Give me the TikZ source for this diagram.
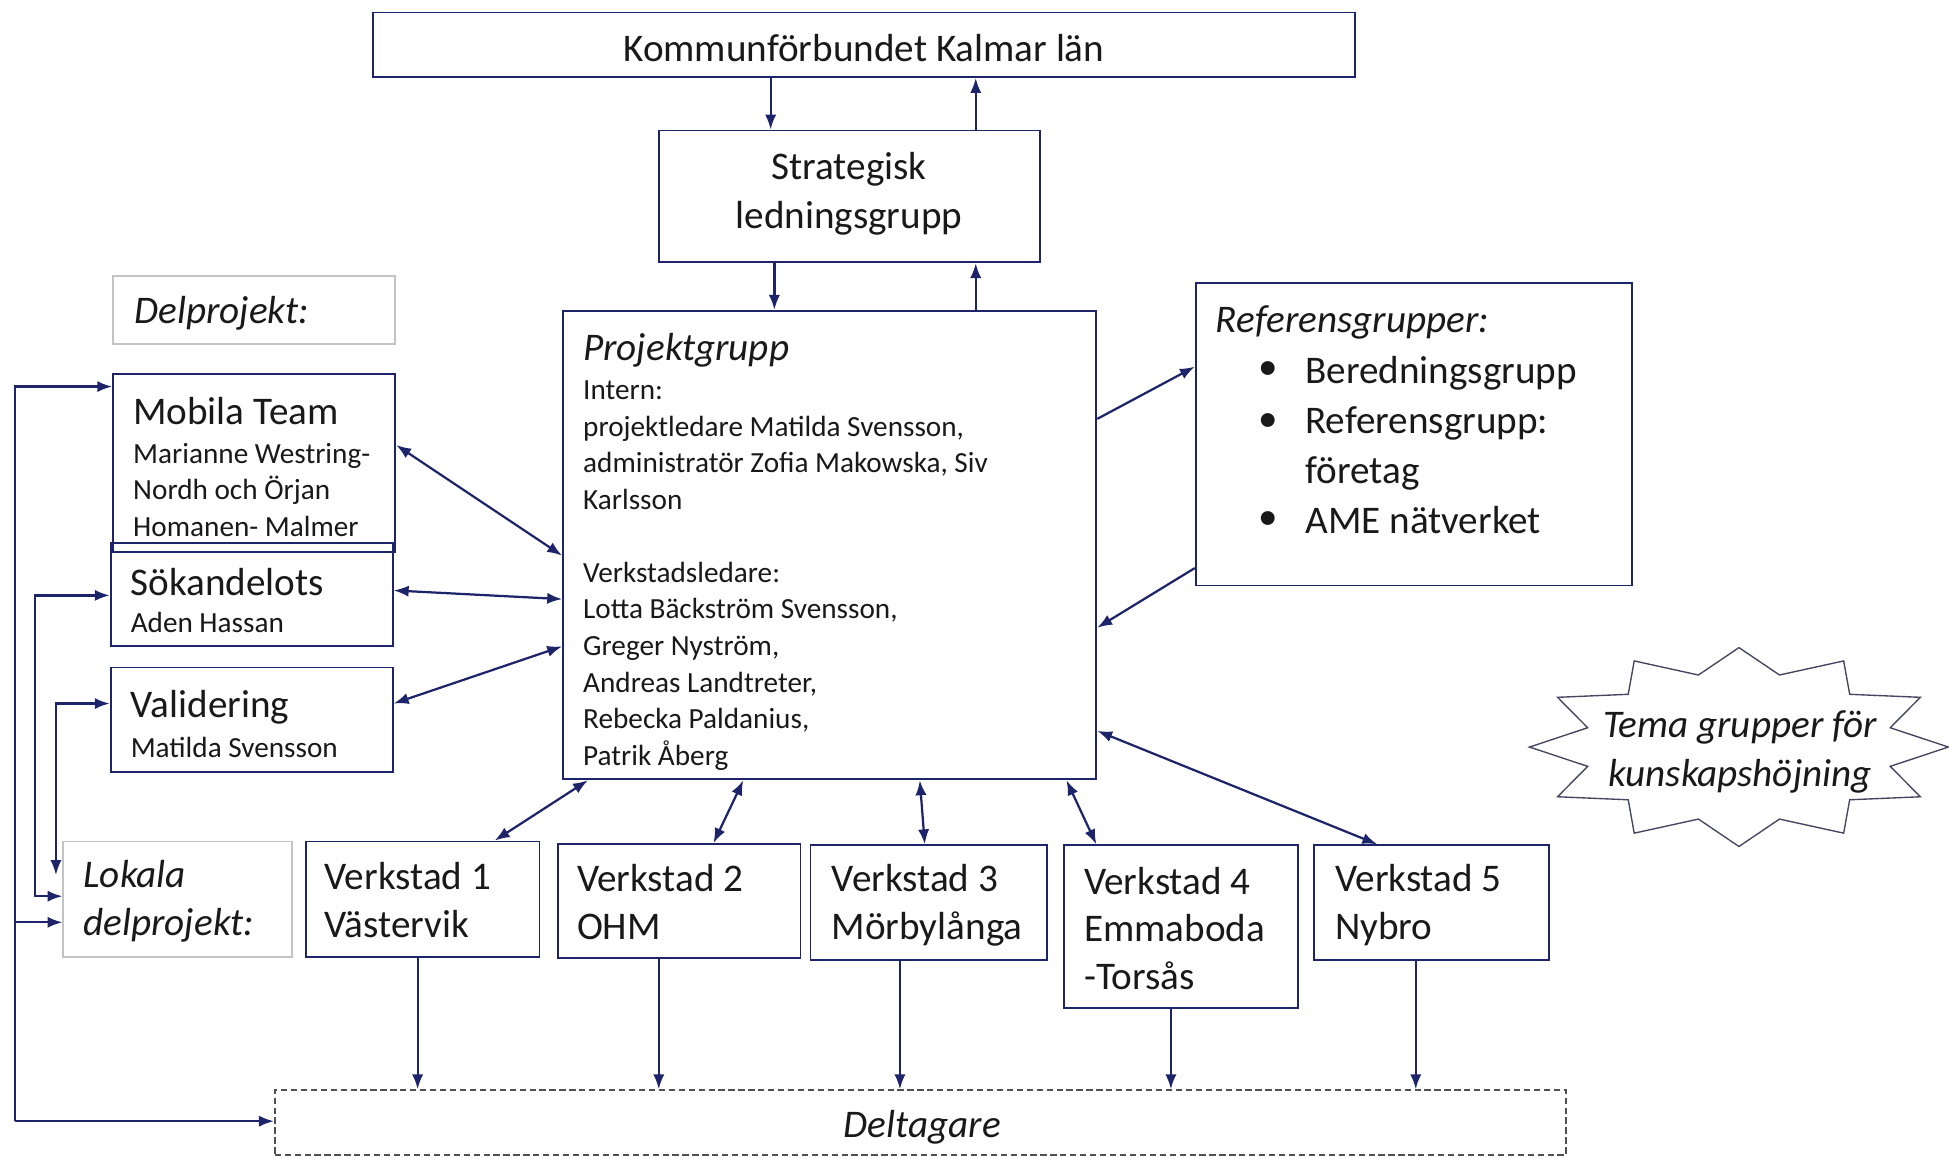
\documentclass[tikz,border=0pt]{standalone}
\usepackage{fontspec}
\setmainfont{Carlito}
\usetikzlibrary{arrows.meta}
\definecolor{navy}{RGB}{30,36,105}
\definecolor{txt}{RGB}{25,25,25}
\definecolor{lgray}{RGB}{195,195,195}
\definecolor{dgray}{RGB}{80,80,80}
\definecolor{stargray}{RGB}{70,70,95}
\newcommand\bx[6]{\node[#2, minimum width={#5-#3}, minimum height={#6-#4}] (#1) at ({(#3+#5)/2},{(#4+#6)/2}) {};}
\tikzset{
  box/.style={draw=navy, line width=1.5pt, inner sep=0pt, rectangle},
  graybox/.style={draw=lgray, line width=1.5pt, inner sep=0pt, rectangle},
  dashbox/.style={draw=dgray, line width=1.3pt, dash pattern=on 5pt off 3pt, inner sep=0pt, rectangle},
  big/.style={font=\fontsize{31.5}{38.5}\selectfont, text=txt, inner sep=0pt, align=left},
  bigc/.style={font=\fontsize{31.5}{39}\selectfont, text=txt, inner sep=0pt, align=center},
  bigit/.style={font=\fontsize{31.5}{38.5}\selectfont\itshape, text=txt, inner sep=0pt, align=left},
  small/.style={font=\fontsize{23.5}{29.4}\selectfont, text=txt, inner sep=0pt, align=left},
  arr/.style={draw=navy, line width=1.8pt, -{Latex[length=12pt,width=9pt]}},
  darr/.style={draw=navy, line width=1.8pt, {Latex[length=12pt,width=9pt]}-{Latex[length=12pt,width=9pt]}},
}
\begin{document}
\begin{tikzpicture}[x=1pt,y=-1pt]
\useasboundingbox (0,0) rectangle (1568,932);
\fill[white] (0,0) rectangle (1568,932);

% boxes
\bx{kommun}{box}{300}{10}{1090}{62}
\bx{strat}{box}{530}{105}{837}{211}
\bx{projekt}{box}{453}{250}{882}{627}
\bx{delp}{graybox}{91}{222}{318}{277}
\bx{mobila}{box}{91}{301}{318}{444}
\bx{sok}{box}{89}{437}{316}{520}
\bx{valid}{box}{89}{537}{316}{621}
\bx{lokala}{graybox}{51}{677}{235}{770}
\bx{vA}{box}{246}{677}{434}{770}
\bx{vB}{box}{449}{679}{644}{771}
\bx{vC}{box}{652}{680}{842}{772}
\bx{vD}{box}{856}{680}{1044}{811}
\bx{vE}{box}{1057}{680}{1246}{772}
\bx{delt}{dashbox}{221}{877}{1260}{929}
\bx{ref}{box}{962}{228}{1313}{471}

% texts
\node[bigc] (kommunT) at (695,39) {Kommunförbundet Kalmar län};
\node[bigc] (stratT) at (683,156) {Strategisk\\ledningsgrupp};
\node[bigit, anchor=west] (delpT) at (108,252) {Delprojekt:};
\node[big, anchor=west] (mobilaT) at (107,331) {Mobila Team};
\node[small, anchor=west] (mobilaN) at (107,394) {Marianne Westring-\\Nordh och Örjan\\Homanen- Malmer};
\node[big, anchor=west] (sokT) at (105,468) {Sökandelots};
\node[small, anchor=west] (sokN) at (105,501) {Aden Hassan};
\node[big, anchor=west] (validT) at (105,569) {Validering};
\node[small, anchor=west] (validN) at (105,601) {Matilda Svensson};
\node[bigit, anchor=west] (projektT) at (469,282) {Projektgrupp};
\node[small, anchor=west] (projektN) at (469,463) {Intern:\\projektledare Matilda Svensson,\\administratör Zofia Makowska, Siv\\Karlsson\\[29.4pt]Verkstadsledare:\\Lotta Bäckström Svensson,\\Greger Nyström,\\Andreas Landtreter,\\Rebecka Paldanius,\\Patrik Åberg};
\node[bigit, anchor=west] (refT) at (978,259) {Referensgrupper:};
\node[big, anchor=center] (bul1) at (1020,298) {•};
\node[big, anchor=center] (bul2) at (1020,340) {•};
\node[big, anchor=center] (bul3) at (1020,419) {•};
\node[font=\fontsize{31.5}{40.3}\selectfont, text=txt, inner sep=0pt, align=left, anchor=west] (refN) at (1050,358) {Beredningsgrupp\\Referensgrupp:\\företag\\AME nätverket};
\node[bigit, anchor=west] (lokalaT) at (67,725) {Lokala\\delprojekt:};
\node[big, anchor=west] (vAT) at (261,724) {Verkstad 1\\Västervik};
\node[big, anchor=west] (vBT) at (464,726) {Verkstad 2\\OHM};
\node[big, anchor=west] (vCT) at (669,728) {Verkstad 3\\Mörbylånga};
\node[big, anchor=west] (vDT) at (872,747) {Verkstad 4\\Emmaboda\\-Torsås};
\node[big, anchor=west] (vET) at (1074,728) {Verkstad 5\\Nybro};
\node[bigit, anchor=center] (deltT) at (742,907) {Deltagare};

% star
\begin{scope}[shift={(1399,601)}]
\draw[draw=stargray, line width=1.1pt, fill=white] (0:168.5 and 80) \foreach \a in {0,30,...,330} { -- ({\a+15}:126 and 60) -- ({\a+30}:168.5 and 80) } -- cycle;
\end{scope}
\node[font=\fontsize{31.5}{40}\selectfont\itshape, text=txt, inner sep=0pt, align=center] (temaT) at (1400,605) {Tema grupper för\\kunskapshöjning};

% vertical top arrows
\draw[arr] (kommun.south -| 620,0) -- (strat.north -| 620,0);
\draw[arr] (strat.north -| 785,0) -- (kommun.south -| 785,0);
\draw[arr] (strat.south -| 623,0) -- (projekt.north -| 623,0);
\draw[arr] (projekt.north -| 785,0) -- (strat.south -| 785,0);

% sub projects <-> projekt
\draw[darr] (mobila.east |- 0,358) -- (projekt.west |- 0,447);
\draw[darr] (sok.east |- 0,475) -- (projekt.west |- 0,482);
\draw[darr] (valid.east |- 0,566) -- (projekt.west |- 0,520);

% referens
\draw[arr] (projekt.east |- 0,337) -- (ref.west |- 0,295);
\draw[arr] (ref.west |- 0,457) -- (projekt.east |- 0,505);

% projekt <-> verkstad
\draw[darr] (projekt.south -| 473,0) -- (vA.north -| 398,0);
\draw[darr] (projekt.south -| 598,0) -- (vB.north -| 574,0);
\draw[darr] (projekt.south -| 740,0) -- (vC.north -| 744,0);
\draw[darr] (projekt.south -| 858,0) -- (vD.north -| 882,0);
\draw[darr] (projekt.east |- 0,588) -- (vE.north -| 1108,0);

% verkstad -> deltagare
\draw[arr] (vA.south -| 336,0) -- (delt.north -| 336,0);
\draw[arr] (vB.south -| 530,0) -- (delt.north -| 530,0);
\draw[arr] (vC.south -| 724,0) -- (delt.north -| 724,0);
\draw[arr] (vD.south -| 942,0) -- (delt.north -| 942,0);
\draw[arr] (vE.south -| 1139,0) -- (delt.north -| 1139,0);

% left routing
\coordinate (oTop) at (12,311);
\coordinate (oBot) at (12,902);
\coordinate (oMid) at (12,742);
\draw[arr] (oBot) -- (oTop) -- (mobila.west |- oTop);
\draw[arr] (oBot) -- (delt.west |- oBot);
\draw[arr] (oMid) -- (lokala.west |- oMid);
\draw[darr] (sok.west |- 0,479) -- (28,479) -- (28,721) -- (lokala.west |- 0,721);
\coordinate (c3end) at (45,704);
\draw[darr] (valid.west |- 0,566) -- (45,566) -- (c3end);
\end{tikzpicture}
\end{document}
